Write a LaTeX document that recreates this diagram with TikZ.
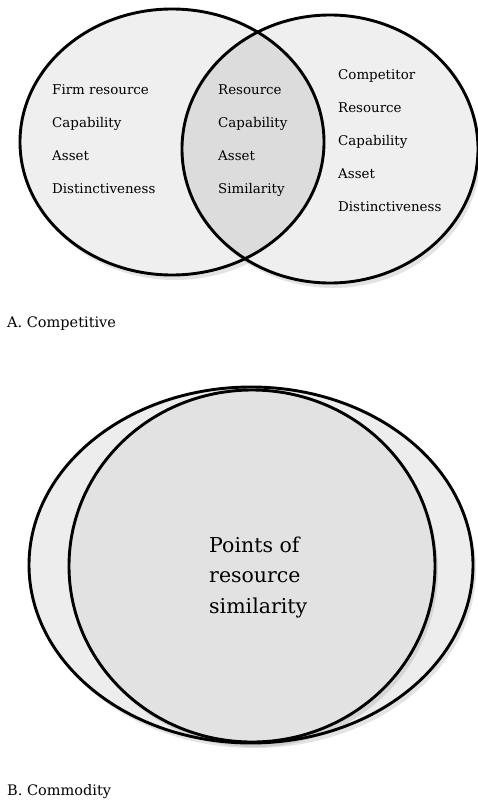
\documentclass[tikz,border=0pt]{standalone}
\usepackage{fontspec}
\setmainfont{DejaVu Serif}
\usetikzlibrary{shadows}

\definecolor{ringfill}{HTML}{EFEFEF}
\definecolor{lensfill}{HTML}{DCDCDC}
\definecolor{outerfill}{HTML}{EDEDED}
\definecolor{innerfill}{HTML}{E2E2E2}

\tikzset{
  disc/.style={fill=#1, drop shadow={opacity=0.22, shadow xshift=3pt, shadow yshift=-5pt}},
  rim/.style={draw=black, line width=2.9pt},
  vennword/.style={anchor=base west, inner sep=0pt, font=\fontsize{13.4}{15}\selectfont},
  bigword/.style={anchor=base west, inner sep=0pt, font=\fontsize{20.5}{23}\selectfont},
  panelname/.style={anchor=base west, inner sep=0pt, font=\fontsize{14.5}{17}\selectfont}
}

\begin{document}
\begin{tikzpicture}[x=1pt, y=-1pt]
    \useasboundingbox (0,0) rectangle (478,800);

    % A. Competitive
    \coordinate (firm) at (172,142);
    \coordinate (rival) at (330,149);
    \fill[disc=ringfill] (firm) ellipse [x radius=152, y radius=133];
    \fill[disc=ringfill] (rival) ellipse [x radius=148, y radius=134];
    \begin{scope}
        \clip (firm) ellipse [x radius=152, y radius=133];
        \fill[lensfill] (rival) ellipse [x radius=148, y radius=134];
    \end{scope}
    \draw[rim] (firm) ellipse [x radius=152, y radius=133];
    \draw[rim] (rival) ellipse [x radius=148, y radius=134];

    % Words in the circles
    \foreach \w [count=\i] in {Firm resource, Capability, Asset, Distinctiveness}
        \node[vennword] (firm\i) at (52, 61+33*\i) {\w};
    \foreach \w [count=\i] in {Resource, Capability, Asset, Similarity}
        \node[vennword] (both\i) at (218, 61+33*\i) {\w};
    \foreach \w [count=\i] in {Competitor, Resource, Capability, Asset, Distinctiveness}
        \node[vennword] (rival\i) at (338, 46+33*\i) {\w};

    \node[panelname] (capA) at (7,327) {A. Competitive};

    % B. Commodity
    \coordinate (market) at (251,565);
    \coordinate (shared) at (252,566);
    \fill[disc=outerfill] (market) ellipse [x radius=222, y radius=178];
    \fill[disc=innerfill] (shared) ellipse [x radius=183, y radius=176];
    \draw[rim] (market) ellipse [x radius=222, y radius=178];
    \draw[rim] (shared) ellipse [x radius=183, y radius=176];

    \foreach \w [count=\i] in {Points of, resource, similarity}
        \node[bigword] (point\i) at (209, 521.5+30.5*\i) {\w};

    \node[panelname] (capB) at (7,795) {B. Commodity};

\end{tikzpicture}
\end{document}
